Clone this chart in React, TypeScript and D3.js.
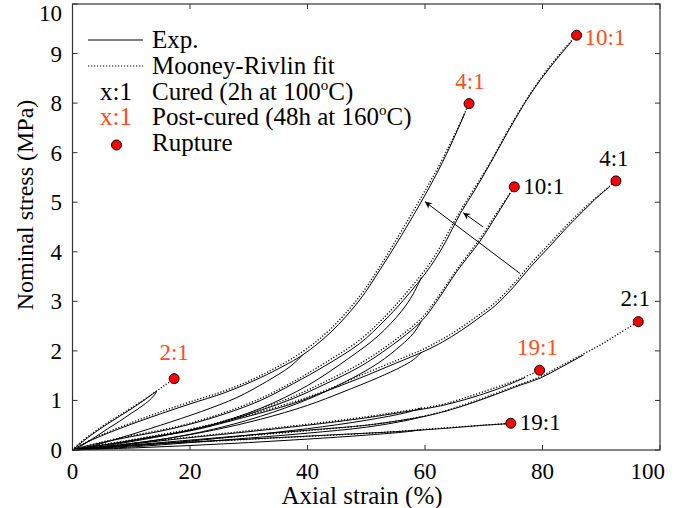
import React from "react";
import * as d3 from "d3";

// axis ticks (the published figure skips the "7" label, ticks are evenly spaced)
const xTicks = [0, 20, 40, 60, 80, 100];
const yTicks = [0, 1, 2, 3, 4, 5, 6, 8, 9, 10];

// experimental curves, [strain %, stress MPa]
const post21Exp = [[0, 0], [1, 0.1], [2.5, 0.24], [4, 0.37], [6, 0.53], [8, 0.68], [10, 0.83], [12, 0.99], [14.3, 1.18], [13.5, 1.05], [12, 0.9], [10, 0.74], [8, 0.58], [6, 0.43], [4, 0.27], [2, 0.12], [0.8, 0.03], [0, 0]];
const post41Exp = [[0, 0], [2, 0.13], [5, 0.29], [10, 0.52], [15, 0.73], [20, 0.93], [26, 1.16], [32, 1.46], [36, 1.7], [39.2, 1.92], [44, 2.38], [48.9, 3.03], [52.3, 3.63], [56, 4.33], [59.7, 5.08], [62, 5.58], [63.9, 6.06], [65.5, 6.9], [66.8, 7.6]];
const post41Cycle = [[39.2, 1.92], [37, 1.68], [33, 1.38], [28, 1.06], [22, 0.78], [15, 0.5], [8, 0.24], [3, 0.07], [0, 0]];
const post101Exp = [[0, 0], [2, 0.07], [5, 0.15], [10, 0.27], [15, 0.38], [20, 0.52], [26.2, 0.74], [32, 1.0], [37.6, 1.34], [43, 1.7], [48.9, 2.15], [53, 2.6], [56.3, 3.02], [60.9, 3.7], [63.5, 4.2], [66, 4.77], [68.5, 5.25], [71.1, 5.78], [74, 6.8], [77.3, 8.06], [79.6, 8.46], [82.5, 8.9], [85, 9.25]];
const post101Cycle = [[59.4, 3.49], [58, 3.15], [56, 2.8], [52, 2.3], [47, 1.85], [40, 1.3], [32, 0.84], [24, 0.52], [16, 0.3], [8, 0.13], [2, 0.02], [0, 0]];
const post191Exp = [[0, 0], [5, 0.06], [10, 0.12], [20, 0.25], [30, 0.37], [40, 0.5], [50, 0.65], [56, 0.76], [62.6, 0.89], [68, 1.06], [73, 1.26], [77, 1.46]];
const post191Cycle = [[59.4, 0.85], [57, 0.76], [50, 0.6], [40, 0.43], [30, 0.3], [20, 0.18], [10, 0.08], [0, 0]];
const cured21Exp = [[0, 0], [5, 0.05], [10, 0.1], [20, 0.2], [30, 0.3], [40, 0.4], [50, 0.5], [56, 0.6], [60, 0.68], [64, 0.8], [68, 0.95], [72, 1.12], [76, 1.3], [79.6, 1.45], [83, 1.66], [87, 1.92]];
const cured21Cycle = [[59.4, 0.67], [57, 0.6], [50, 0.46], [40, 0.34], [30, 0.24], [20, 0.15], [10, 0.06], [0, 0]];
const cured41Exp = [[0, 0], [3, 0.06], [8, 0.15], [14, 0.27], [20.6, 0.4], [28, 0.62], [37.6, 0.94], [43, 1.18], [48.9, 1.45], [55, 1.75], [60, 2.0], [63, 2.18], [66, 2.4], [69, 2.65], [72, 2.92], [75, 3.28], [78, 3.7], [81, 4.08], [84, 4.47], [87, 4.83], [89.5, 5.12], [91.5, 5.32]];
const cured41Cycle = [[59.4, 1.97], [58, 1.82], [56, 1.68], [52, 1.46], [46, 1.17], [40, 0.9], [32, 0.62], [24, 0.4], [16, 0.23], [8, 0.1], [0, 0]];
const cured101Exp = [[0, 0], [3, 0.06], [8, 0.15], [14, 0.27], [20, 0.4], [26.2, 0.58], [32, 0.8], [37.6, 1.04], [43, 1.33], [48.9, 1.68], [54, 2.08], [59.4, 2.6], [62, 3.0], [65.4, 3.6], [69.4, 4.22], [72.2, 4.74], [74.5, 5.18]];
const cured101Cycle = [[59.4, 2.6], [58, 2.35], [56, 2.12], [52, 1.75], [46, 1.35], [40, 1.02], [32, 0.68], [24, 0.42], [16, 0.23], [8, 0.1], [2, 0.02], [0, 0]];
const cured191Exp = [[0, 0], [3, 0.04], [8, 0.08], [15, 0.13], [25, 0.19], [35, 0.25], [45, 0.31], [55, 0.37], [62.6, 0.43], [70, 0.5], [74, 0.53]];
const cured191Cycle = [[59.4, 0.41], [57, 0.37], [50, 0.3], [40, 0.22], [30, 0.15], [20, 0.09], [10, 0.04], [0, 0]];

// Mooney-Rivlin fits
const post21Fit = [[0, 0], [1, 0.12], [2.5, 0.26], [4, 0.39], [6, 0.55], [8, 0.7], [10, 0.85], [12, 1.0], [14.3, 1.19], [16, 1.33], [17.3, 1.44]];
const post41Fit = [[0, 0], [2, 0.14], [5, 0.31], [10, 0.55], [15, 0.77], [20, 0.97], [26, 1.2], [32, 1.5], [39, 1.97], [44, 2.45], [49, 3.12], [52.3, 3.7], [56, 4.42], [59.5, 5.13], [62, 5.65], [63.7, 6.08], [65.5, 6.95], [67.5, 7.98]];
const post101Fit = [[0, 0], [5, 0.16], [10, 0.29], [15, 0.4], [20, 0.54], [26.2, 0.77], [32, 1.04], [37.6, 1.38], [43, 1.76], [48.9, 2.22], [53, 2.67], [56.3, 3.1], [60.9, 3.78], [66, 4.82], [71.1, 5.8], [74, 6.85], [77, 8.02], [80, 8.55], [83, 9.0], [85.8, 9.37]];
const post191Fit = [[0, 0], [5, 0.07], [10, 0.13], [20, 0.26], [30, 0.39], [40, 0.52], [50, 0.67], [56, 0.78], [62.6, 0.91], [68, 1.1], [73, 1.3], [76.5, 1.45], [79.5, 1.61]];
const cured21Fit = [[0, 0], [5, 0.04], [10, 0.09], [20, 0.19], [30, 0.29], [40, 0.39], [50, 0.5], [56, 0.6], [60, 0.69], [64, 0.81], [68, 0.97], [72, 1.14], [76, 1.32], [79.6, 1.48], [83, 1.69], [87, 1.94], [90, 2.13], [93, 2.35], [96.3, 2.59]];
const cured41Fit = [[0, 0], [3, 0.07], [8, 0.16], [14, 0.28], [20.6, 0.42], [28, 0.64], [37.6, 0.97], [43, 1.2], [48.9, 1.5], [55, 1.8], [60, 2.05], [63, 2.24], [66, 2.46], [69, 2.71], [72, 2.98], [75, 3.34], [78, 3.76], [81, 4.14], [84, 4.52], [87, 4.87], [90, 5.18], [92.5, 5.43]];
const cured101Fit = [[0, 0], [3, 0.07], [8, 0.16], [14, 0.29], [20, 0.42], [26.2, 0.6], [32, 0.83], [37.6, 1.08], [43, 1.38], [48.9, 1.74], [54, 2.14], [59.4, 2.66], [62, 3.05], [65.4, 3.64], [69.4, 4.27], [72.2, 4.78], [75.2, 5.31]];
const cured191Fit = [[0, 0], [3, 0.035], [8, 0.075], [15, 0.125], [25, 0.185], [35, 0.245], [45, 0.305], [55, 0.37], [62.6, 0.44], [70, 0.5], [74.6, 0.54]];

// rupture points
const ruptureLabels = ["2:1", "4:1", "10:1", "19:1", "2:1", "4:1", "10:1", "19:1"];
const ruptureStrain = [17.3, 67.5, 85.8, 79.5, 96.3, 92.5, 75.2, 74.6];
const ruptureStress = [1.44, 7.98, 9.37, 1.61, 2.59, 5.43, 5.31, 0.54];
const rupturePost = [true, true, true, true, false, false, false, false];

// arrows cured -> post-cured, [from, to]
const arrows = [
  [[76.2, 3.56], [60.0, 5.01]],
  [[69.9, 4.5], [66.5, 4.79]],
];

const expCurves = [post21Exp, post41Exp, post41Cycle, post101Exp, post101Cycle, post191Exp, post191Cycle, cured21Exp, cured21Cycle, cured41Exp, cured41Cycle, cured101Exp, cured101Cycle, cured191Exp, cured191Cycle];
const fitCurves = [post21Fit, post41Fit, post101Fit, post191Fit, cured21Fit, cured41Fit, cured101Fit, cured191Fit];

// label placement relative to marker: [dx, dy, anchor]
const labelPos: [number, number, string][] = [
  [0, -19, "middle"], [1, -15, "middle"], [8, 10, "start"], [-2, -15, "middle"],
  [-3, -16, "middle"], [-2, -15, "middle"], [9, 7, "start"], [9, 7, "start"],
];

const W = 689;
const H = 508;
const plot = { left: 72.5, right: 660, top: 4, bottom: 450 };
const orange = "#ff4d1c";
const font = "'Liberation Serif', 'Times New Roman', serif";
const fs = 23;
const fsBig = 25;

export default function App() {
  const x = d3.scaleLinear().domain([0, 100]).range([plot.left, plot.right]);
  const step = (plot.bottom - plot.top) / (yTicks.length - 1);
  const y = d3
    .scaleLinear()
    .domain(yTicks)
    .range(yTicks.map((_, i) => plot.bottom - i * step));

  const line = d3
    .line<number[]>()
    .x((d) => x(d[0]))
    .y((d) => y(d[1]))
    .curve(d3.curveCatmullRom.alpha(0.5));

  const tickLen = 5;
  const legendRows = [48, 74, 100, 125, 151];

  return (
    <svg
      width={W}
      height={H}
      style={{ position: "absolute", left: 0, top: 0, background: "#fff" }}
      fontFamily={font}
      fontSize={fs}
    >
      <defs>
        <marker id="arr" viewBox="0 0 10 10" refX="10" refY="5" markerWidth="9" markerHeight="7" markerUnits="userSpaceOnUse" orient="auto">
          <path d="M0,0 L10,5 L0,10 L3,5 Z" fill="#000" />
        </marker>
      </defs>
      <rect x={0} y={0} width={W} height={H} fill="#fff" />

      {/* curves */}
      {expCurves.map((c, i) => (
        <path key={"e" + i} d={line(c) || ""} fill="none" stroke="#000" strokeWidth={1} />
      ))}
      {fitCurves.map((c, i) => (
        <path key={"f" + i} d={line(c) || ""} fill="none" stroke="#000" strokeWidth={1.3} strokeDasharray="1.2,1.8" />
      ))}

      {/* arrows */}
      {arrows.map((a, i) => (
        <line key={"a" + i} x1={x(a[0][0])} y1={y(a[0][1])} x2={x(a[1][0])} y2={y(a[1][1])} stroke="#000" strokeWidth={1} markerEnd="url(#arr)" />
      ))}

      {/* rupture markers and labels */}
      {ruptureStrain.map((s, i) => (
        <g key={"r" + i}>
          <circle cx={x(s)} cy={y(ruptureStress[i])} r={5} fill="#ff0000" stroke="#000" strokeWidth={1} />
          <text
            x={x(s) + labelPos[i][0]}
            y={y(ruptureStress[i]) + labelPos[i][1]}
            textAnchor={labelPos[i][2]}
            fill={rupturePost[i] ? orange : "#000"}
          >
            {ruptureLabels[i]}
          </text>
        </g>
      ))}

      {/* frame */}
      <rect x={plot.left} y={plot.top} width={plot.right - plot.left} height={plot.bottom - plot.top} fill="none" stroke="#333" strokeWidth={1.2} />
      {xTicks.map((t) => (
        <g key={"xt" + t}>
          <line x1={x(t)} x2={x(t)} y1={plot.bottom} y2={plot.bottom - tickLen} stroke="#333" />
          <line x1={x(t)} x2={x(t)} y1={plot.top} y2={plot.top + tickLen} stroke="#333" />
          <text
            x={t === 100 ? x(t) + 5 : x(t)}
            y={479}
            textAnchor={t === 100 ? "end" : "middle"}
          >
            {t}
          </text>
        </g>
      ))}
      {yTicks.map((t) => (
        <g key={"yt" + t}>
          <line x1={plot.left} x2={plot.left + tickLen} y1={y(t)} y2={y(t)} stroke="#333" />
          <line x1={plot.right} x2={plot.right - tickLen} y1={y(t)} y2={y(t)} stroke="#333" />
          <text x={62} y={t === 10 ? 21 : y(t) + 8} textAnchor="end">
            {t}
          </text>
        </g>
      ))}

      {/* axis titles */}
      <text x={362} y={504} textAnchor="middle" fontSize={fsBig}>
        Axial strain (%)
      </text>
      <text transform="translate(33,205) rotate(-90)" textAnchor="middle" fontSize={24}>
        Nominal stress (MPa)
      </text>

      {/* legend */}
      <g fontSize={fsBig}>
        <line x1={88} x2={143} y1={legendRows[0] - 8} y2={legendRows[0] - 8} stroke="#000" strokeWidth={1} />
        <text x={152} y={legendRows[0]}>Exp.</text>
        <line x1={88} x2={143} y1={legendRows[1] - 8} y2={legendRows[1] - 8} stroke="#000" strokeWidth={1.2} strokeDasharray="1.2,1.8" />
        <text x={152} y={legendRows[1]}>Mooney-Rivlin fit</text>
        <text x={116} y={legendRows[2]} textAnchor="middle">x:1</text>
        <text x={152} y={legendRows[2]}>
          Cured (2h at 100<tspan fontSize={15} dy={-10}>o</tspan>
          <tspan dy={10}>C)</tspan>
        </text>
        <text x={116} y={legendRows[3]} textAnchor="middle" fill={orange}>x:1</text>
        <text x={152} y={legendRows[3]}>
          Post-cured (48h at 160<tspan fontSize={15} dy={-10}>o</tspan>
          <tspan dy={10}>C)</tspan>
        </text>
        <circle cx={116.5} cy={legendRows[4] - 6} r={5} fill="#ff0000" stroke="#000" strokeWidth={1} />
        <text x={152} y={legendRows[4]}>Rupture</text>
      </g>
    </svg>
  );
}
